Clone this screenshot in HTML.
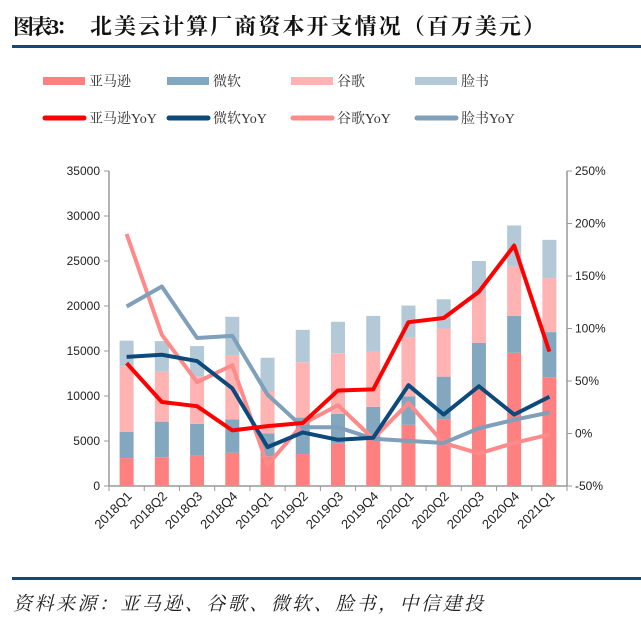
<!DOCTYPE html>
<html><head><meta charset="utf-8"><style>
body{margin:0;background:#fff;width:641px;height:617px;overflow:hidden;font-family:"Liberation Sans","Noto Sans CJK SC",sans-serif}
svg{position:absolute;left:0;top:0}
</style></head><body>
<svg id="c" width="641" height="617">
<text x="13" y="34" font-size="21" font-weight="bold" fill="#111" font-family="'Liberation Serif','Noto Serif CJK SC',serif" textLength="64">图表3：</text>
<text x="90" y="34" font-size="22" font-weight="bold" fill="#111" font-family="'Liberation Serif','Noto Serif CJK SC',serif" textLength="455" lengthAdjust="spacing">北美云计算厂商资本开支情况（百万美元）</text>
<rect x="12" y="45" width="629" height="3" fill="#0d4a80"/>
<rect x="12" y="577" width="629" height="3" fill="#0d4a80"/>
<text x="13" y="610" font-size="19" font-style="italic" fill="#222" font-family="'Liberation Serif','Noto Serif CJK SC',serif" textLength="470" lengthAdjust="spacing">资料来源：亚马逊、谷歌、微软、脸书，中信建投</text>
<g id="legend"></g>
<g id="plot"></g>
</svg>
<script>
const categories=["2018Q1","2018Q2","2018Q3","2018Q4","2019Q1","2019Q2","2019Q3","2019Q4","2020Q1","2020Q2","2020Q3","2020Q4","2021Q1"];
const amazonCapex=[3100,3200,3350,3700,3300,3550,4700,5300,6800,7400,11000,14800,12100];
const msCapex=[2900,3950,3550,3700,2550,4050,3300,3500,3150,4750,4900,4100,5000];
const googleCapex=[7300,5550,5250,7150,4650,6150,6750,6100,6600,5350,5500,5500,6000];
const fbCapex=[2850,3400,3400,4250,3750,3600,3500,4000,3500,3250,3600,4550,4250];
const amazonYoY=[67,30,26,3,7,10,41,42,106,110,135,179,78];
const msYoY=[73,75,69,43,-13,1,-6,-4,46,18,45,18,35];
const googleYoY=[190,94,49,65,-30,9,27,-5,29,-9,-19,-9,-1];
const fbYoY=[121,140,91,93,37,6,6,-5,-7,-9,5,13,20];
const leftTicks=[0,5000,10000,15000,20000,25000,30000,35000];
const rightTicks=[-50,0,50,100,150,200,250];

const NS="http://www.w3.org/2000/svg";
const X0=109,X1=567,Y0=486,Y1=171;
const step=(X1-X0)/categories.length;
const xc=i=>X0+step*(i+0.5);
const yL=v=>Y0-(v/35000)*(Y0-Y1);
const yR=p=>Y0-((p+50)/300)*(Y0-Y1);
function mk(tag,attrs,parent){const e=document.createElementNS(NS,tag);for(const k in attrs)e.setAttribute(k,attrs[k]);parent.appendChild(e);return e;}
const plot=document.getElementById('plot');
const lg=document.getElementById('legend');
const tf="'Liberation Sans','Noto Sans CJK SC',sans-serif";

let a=mk('line',{x1:X0,y1:Y1,x2:X0,y2:Y0,stroke:'#999','stroke-width':1.5},plot);

a=mk('line',{x1:X1,y1:Y1,x2:X1,y2:Y0,stroke:'#999','stroke-width':1.5},plot);

a=mk('line',{x1:X0,y1:Y0,x2:X1,y2:Y0,stroke:'#999','stroke-width':1.5},plot);

leftTicks.forEach(v=>{const y=yL(v);
 mk('line',{x1:X0-5,y1:y,x2:X0,y2:y,stroke:'#999'},plot);
 const t=mk('text',{x:X0-9,y:y+4,'text-anchor':'end','font-size':12,fill:'#222','font-family':tf},plot);t.textContent=v;
 });
rightTicks.forEach(v=>{const y=yR(v);
 mk('line',{x1:X1,y1:y,x2:X1+5,y2:y,stroke:'#999'},plot);
 const t=mk('text',{x:X1+8,y:y+4,'font-size':12,fill:'#222','font-family':tf},plot);t.textContent=v+'%';
 });
for(let i=0;i<=categories.length;i++){const x=X0+step*i;mk('line',{x1:x,y1:Y0,x2:x,y2:Y0+5,stroke:'#999'},plot);}
categories.forEach((c,i)=>{const x=xc(i)+6,y=Y0+11;
 const t=mk('text',{x:x,y:y,'text-anchor':'end','font-size':13,fill:'#222','font-family':tf,transform:`rotate(-45 ${x} ${y})`},plot);t.textContent=c;
 });

const stacks=[[amazonCapex,'#ff8080','amazon'],[msCapex,'#84a7c0','microsoft'],[googleCapex,'#ffb3b3','google'],[fbCapex,'#b4c9d8','facebook']];
categories.forEach((c,i)=>{let base=0;
 stacks.forEach(([arr,col,n])=>{const top=base+arr[i];
  const r=mk('rect',{x:xc(i)-7,y:yL(top),width:14,height:yL(base)-yL(top),fill:col},plot);
  
  base=top;});});

const lines=[[googleYoY,'#ff8a8a','google-yoy'],[fbYoY,'#7f9fba','facebook-yoy'],[msYoY,'#0b4a7a','microsoft-yoy'],[amazonYoY,'#ff0000','amazon-yoy']];
lines.forEach(([arr,col,n])=>{
 const p=mk('polyline',{points:arr.map((v,i)=>xc(i)+','+yR(v)).join(' '),fill:'none',stroke:col,'stroke-width':4,'stroke-linejoin':'round'},plot);
 });

const leg=[['亚马逊','#ff8080',0,'rect'],['微软','#84a7c0',1,'rect'],['谷歌','#ffb3b3',2,'rect'],['脸书','#b4c9d8',3,'rect'],
['亚马逊YoY','#ff0000',0,'line'],['微软YoY','#0b4a7a',1,'line'],['谷歌YoY','#ff8a8a',2,'line'],['脸书YoY','#7f9fba',3,'line']];
leg.forEach(([lab,col,k,type])=>{const x=43+124*k,y=type==='rect'?81:118;
 const g=mk('g',{},lg);
 
 if(type==='rect')mk('rect',{x:x,y:y-4,width:42,height:8,fill:col},g);
 else mk('line',{x1:x+2,y1:y,x2:x+41,y2:y,stroke:col,'stroke-width':5,'stroke-linecap':'round'},g);
 const t=mk('text',{x:x+46,y:y+5,'font-size':14,fill:'#333','font-family':"'Liberation Serif','Noto Serif CJK SC',serif"},g);t.textContent=lab;});
</script>
</body></html>
